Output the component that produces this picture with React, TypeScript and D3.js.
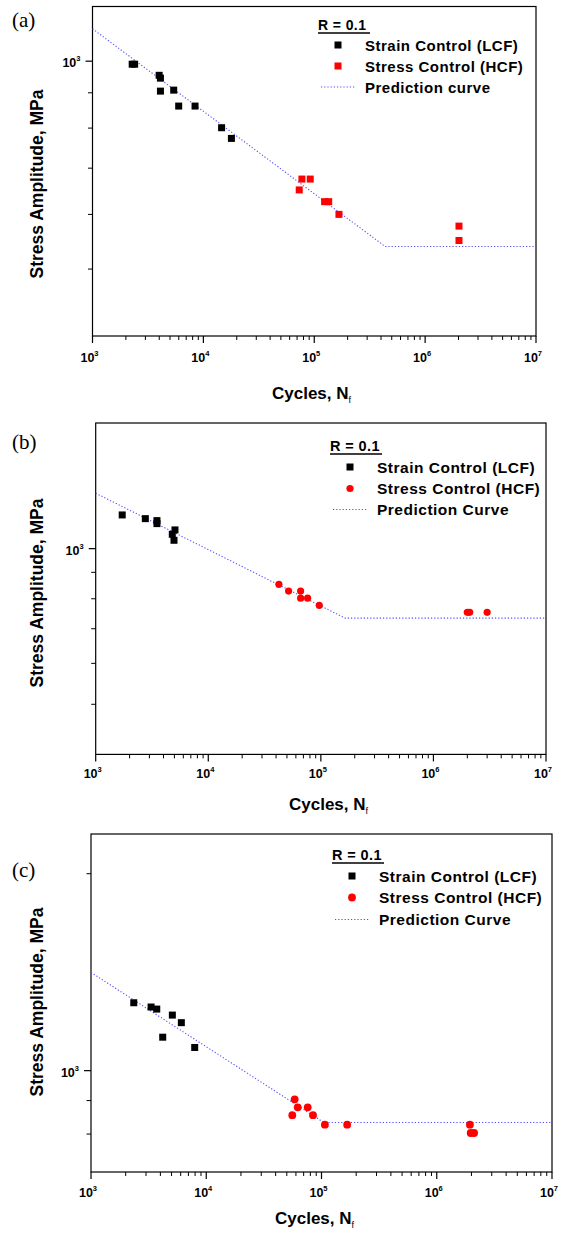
import React from 'react';
import * as d3 from 'd3';

// ---------- DATA ----------
const X_DOMAIN: [number, number] = [1e3, 1e7];
const X_MAJOR = [1e3, 1e4, 1e5, 1e6, 1e7];
const X_MAJOR_EXP = ['3', '4', '5', '6', '7'];
const Y_LABEL_VALUE = 1e3;
const Y_LABEL_EXP = '3';

const LEGEND_TITLE = 'R = 0.1';
const LEGEND_STRAIN = 'Strain Control (LCF)';
const LEGEND_STRESS = 'Stress Control (HCF)';
const LEGEND_PRED_A = 'Prediction curve';
const LEGEND_PRED_BC = 'Prediction Curve';
const X_TITLE = 'Cycles, N';
const X_TITLE_SUB = 'f';
const Y_TITLE = 'Stress Amplitude, MPa';

// Panel (a)
const A_Y_DOMAIN: [number, number] = [400, 1200];
const A_STRAIN_N = [2280, 2400, 3990, 4100, 4100, 5400, 5990, 8410, 14600, 17900];
const A_STRAIN_S = [990, 990, 954, 945, 905, 908, 861, 861, 801, 773];
const A_STRESS_N = [73200, 77400, 92000, 124000, 135000, 167000, 2.02e6, 2.02e6];
const A_STRESS_S = [651, 675, 675, 626, 626, 600, 577, 550];
const A_PRED_N = [1e3, 4.37e5, 1e7];
const A_PRED_S = [1114, 539, 539];

// Panel (b)
const B_Y_DOMAIN: [number, number] = [400, 1750];
const B_STRAIN_N = [1720, 2760, 3500, 3500, 4790, 5060, 4960];
const B_STRAIN_S = [1162, 1143, 1133, 1118, 1066, 1087, 1038];
const B_STRESS_N = [42400, 51700, 66100, 66100, 76300, 96800, 2.0e6, 2.1e6, 3.0e6];
const B_STRESS_S = [853, 828, 828, 802, 802, 777, 753, 753, 753];
const B_PRED_N = [1e3, 1.64e5, 1e7];
const B_PRED_S = [1280, 734, 734];

// Panel (c)
const C_Y_DOMAIN: [number, number] = [700, 2300];
const C_STRAIN_N = [2350, 3320, 3720, 4190, 5080, 6080, 7940];
const C_STRAIN_S = [1270, 1251, 1242, 1125, 1216, 1184, 1085];
const C_STRESS_N = [55800, 58500, 62200, 75900, 84400, 107000, 167000, 1.94e6, 1.97e6, 2.11e6];
const C_STRESS_S = [855, 904, 879, 879, 855, 827, 827, 827, 803, 803];
const C_PRED_N = [1e3, 1.05e5, 1e7];
const C_PRED_S = [1413, 833, 833];

// ---------- STYLE ----------
const SANS = "'Liberation Sans', Arial, Helvetica, sans-serif";
const SERIF = "'Liberation Serif', 'Times New Roman', serif";
const BLUE = '#4d4dff';
const RED = '#ff0000';
const DASH = '1.2 2';

interface Cfg {
  label: string;
  labelY: number;
  left: number; right: number; top: number; bottom: number;
  yDomain: [number, number];
  legX: number; legTitleY: number; legRows: number[];
  legFont: number;
  yTitleCy: number;
  xTitleX: number;
  xLabelDy: number;
  xTitleDy: number;
  predLabel: string;
  circles: boolean;
  markerR: number;
}

interface Series {
  strainN: number[]; strainS: number[];
  stressN: number[]; stressS: number[];
  predN: number[]; predS: number[];
}

function Panel({ cfg, data }: { cfg: Cfg; data: Series }) {
  const x = d3.scaleLog().domain(X_DOMAIN).range([cfg.left, cfg.right]);
  const y = d3.scaleLog().domain(cfg.yDomain).range([cfg.bottom, cfg.top]);
  const line = d3.line<number>()
    .x((_, i) => x(data.predN[i]))
    .y((_, i) => y(data.predS[i]));
  const xMinor = x.ticks().filter(t => !X_MAJOR.some(m => Math.abs(m - t) < 1e-6));
  const yMinor = y.ticks().filter(t => Math.abs(t - Y_LABEL_VALUE) > 1e-6 && t > cfg.yDomain[0] + 1e-6);
  const sq = 7;

  const legTitleW = 52;
  const lx = cfg.legX;
  const markX = lx + 20;
  const textX = lx + 47;

  return (
    <g>
      {/* panel label */}
      <text x={12} y={cfg.labelY} fontFamily={SERIF} fontSize={21}>{cfg.label}</text>
      {/* frame */}
      <rect x={cfg.left} y={cfg.top} width={cfg.right - cfg.left} height={cfg.bottom - cfg.top}
        fill="none" stroke="#000" strokeWidth={1.2} />
      {/* x ticks */}
      {X_MAJOR.map((t, i) => (
        <g key={'xm' + i}>
          <line x1={x(t)} x2={x(t)} y1={cfg.bottom} y2={cfg.bottom + 7} stroke="#000" strokeWidth={1.2} />
          <text x={x(t) - 3} y={cfg.bottom + cfg.xLabelDy} textAnchor="middle" fontFamily={SANS} fontWeight="bold" fontSize={12.5}>
            10<tspan dy={-6} fontSize={7.5}>{X_MAJOR_EXP[i]}</tspan>
          </text>
        </g>
      ))}
      {xMinor.map((t, i) => (
        <line key={'xn' + i} x1={x(t)} x2={x(t)} y1={cfg.bottom} y2={cfg.bottom + 4} stroke="#000" strokeWidth={1} />
      ))}
      {/* y ticks */}
      <line x1={cfg.left - 7} x2={cfg.left} y1={y(Y_LABEL_VALUE)} y2={y(Y_LABEL_VALUE)} stroke="#000" strokeWidth={1.2} />
      <text x={cfg.left - 12} y={y(Y_LABEL_VALUE) + 6} textAnchor="end" fontFamily={SANS} fontWeight="bold" fontSize={12.5}>
        10<tspan dy={-6} fontSize={7.5}>{Y_LABEL_EXP}</tspan>
      </text>
      {yMinor.map((t, i) => (
        <line key={'yn' + i} x1={cfg.left - 4.5} x2={cfg.left} y1={y(t)} y2={y(t)} stroke="#000" strokeWidth={1} />
      ))}
      {/* titles */}
      <text x={cfg.xTitleX} y={cfg.bottom + cfg.xTitleDy} fontFamily={SANS} fontWeight="bold" fontSize={17}>
        {X_TITLE}<tspan dy={4} fontSize={9} fontWeight="normal">{X_TITLE_SUB}</tspan>
      </text>
      <text transform={`translate(43,${cfg.yTitleCy}) rotate(-90)`} textAnchor="middle"
        fontFamily={SANS} fontWeight="bold" fontSize={17.5}>{Y_TITLE}</text>
      {/* prediction curve */}
      <path d={line(data.predN) || ''} fill="none" stroke={BLUE} strokeWidth={1.1} strokeDasharray={DASH} />
      {/* strain data */}
      {data.strainN.map((n, i) => (
        <rect key={'s' + i} x={x(n) - sq / 2} y={y(data.strainS[i]) - sq / 2} width={sq} height={sq} fill="#000" />
      ))}
      {/* stress data */}
      {data.stressN.map((n, i) => cfg.circles ? (
        <circle key={'h' + i} cx={x(n)} cy={y(data.stressS[i])} r={cfg.markerR} fill={RED} />
      ) : (
        <rect key={'h' + i} x={x(n) - sq / 2} y={y(data.stressS[i]) - sq / 2} width={sq} height={sq} fill={RED} />
      ))}
      {/* legend */}
      <text x={lx} y={cfg.legTitleY + 5} fontFamily={SANS} fontWeight="bold" fontSize={cfg.legFont - 1}
        letterSpacing={0.4}>{LEGEND_TITLE}</text>
      <line x1={lx} x2={lx + legTitleW} y1={cfg.legTitleY + 8} y2={cfg.legTitleY + 8} stroke="#000" strokeWidth={1.4} />
      <rect x={markX - 3.5} y={cfg.legRows[0] - 3.5} width={7} height={7} fill="#000" />
      <text x={textX} y={cfg.legRows[0] + 5.5} fontFamily={SANS} fontWeight="bold" fontSize={cfg.legFont} letterSpacing={0.5}>{LEGEND_STRAIN}</text>
      {cfg.circles
        ? <circle cx={markX} cy={cfg.legRows[1]} r={cfg.markerR} fill={RED} />
        : <rect x={markX - 3.5} y={cfg.legRows[1] - 3.5} width={7} height={7} fill={RED} />}
      <text x={textX} y={cfg.legRows[1] + 5.5} fontFamily={SANS} fontWeight="bold" fontSize={cfg.legFont} letterSpacing={0.5}>{LEGEND_STRESS}</text>
      <line x1={lx + 3} x2={lx + 37} y1={cfg.legRows[2]} y2={cfg.legRows[2]} stroke={BLUE} strokeWidth={1.1} strokeDasharray={DASH} />
      <text x={textX} y={cfg.legRows[2] + 5.5} fontFamily={SANS} fontWeight="bold" fontSize={cfg.legFont} letterSpacing={0.5}>{cfg.predLabel}</text>
    </g>
  );
}

const CFG_A: Cfg = {
  label: '(a)', labelY: 27,
  left: 92.5, right: 536, top: 6.5, bottom: 336,
  yDomain: A_Y_DOMAIN,
  legX: 318, legTitleY: 25, legRows: [45, 66, 87], legFont: 15,
  yTitleCy: 184, xTitleX: 272, xLabelDy: 26, xTitleDy: 63,
  predLabel: LEGEND_PRED_A, circles: false, markerR: 3.5,
};
const CFG_B: Cfg = {
  label: '(b)', labelY: 449,
  left: 95.7, right: 546, top: 423, bottom: 754.4,
  yDomain: B_Y_DOMAIN,
  legX: 330, legTitleY: 446, legRows: [467, 488.5, 509.5], legFont: 15.5,
  yTitleCy: 593, xTitleX: 289, xLabelDy: 24, xTitleDy: 56,
  predLabel: LEGEND_PRED_BC, circles: true, markerR: 3.6,
};
const CFG_C: Cfg = {
  label: '(c)', labelY: 877,
  left: 91, right: 552, top: 834, bottom: 1172,
  yDomain: C_Y_DOMAIN,
  legX: 332, legTitleY: 855, legRows: [876, 897.5, 919.5], legFont: 15.5,
  yTitleCy: 1002, xTitleX: 275, xLabelDy: 25, xTitleDy: 52,
  predLabel: LEGEND_PRED_BC, circles: true, markerR: 3.9,
};

export default function App() {
  const A: Series = { strainN: A_STRAIN_N, strainS: A_STRAIN_S, stressN: A_STRESS_N, stressS: A_STRESS_S, predN: A_PRED_N, predS: A_PRED_S };
  const B: Series = { strainN: B_STRAIN_N, strainS: B_STRAIN_S, stressN: B_STRESS_N, stressS: B_STRESS_S, predN: B_PRED_N, predS: B_PRED_S };
  const C: Series = { strainN: C_STRAIN_N, strainS: C_STRAIN_S, stressN: C_STRESS_N, stressS: C_STRESS_S, predN: C_PRED_N, predS: C_PRED_S };
  return (
    <svg width={567} height={1236} style={{ position: 'absolute', left: 0, top: 0, background: '#fff' }}>
      <rect x={0} y={0} width={567} height={1236} fill="#fff" />
      <Panel cfg={CFG_A} data={A} />
      <Panel cfg={CFG_B} data={B} />
      <Panel cfg={CFG_C} data={C} />
    </svg>
  );
}
